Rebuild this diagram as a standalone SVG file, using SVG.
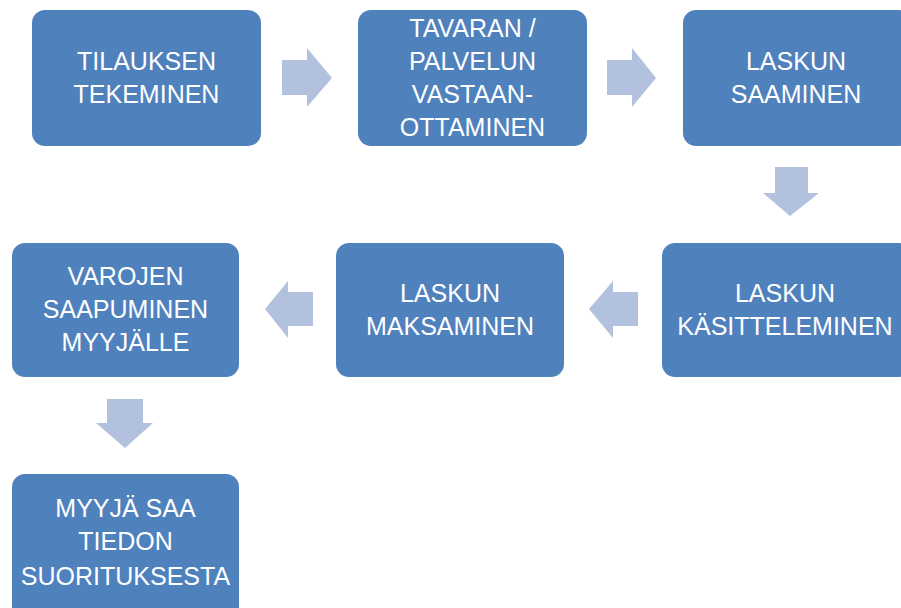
<svg xmlns="http://www.w3.org/2000/svg" width="901" height="608" viewBox="0 0 901 608">
<style>
.box{fill:#4F81BD;}
.arr{fill:#B2C1DD;}
text{font-family:"Liberation Sans",Arial,sans-serif;font-size:25px;fill:#FFFFFF;text-anchor:middle;}
</style>
<rect width="901" height="608" fill="#FFFFFF"/>
<g id="connectors">
<polygon class="arr" points="282,60 307,60 307,48 332,78 307,107 307,95 282,95"/>
<polygon class="arr" points="607,60 632,60 632,48 656,78 632,107 632,95 607,95"/>
<polygon class="arr" points="775,167 808,167 808,193 819,193 790,216 763,193 775,193"/>
<polygon class="arr" points="638,292 613,292 613,281 589,309 613,338 613,326 638,326"/>
<polygon class="arr" points="313,292 288,292 288,281 265,309 288,338 288,326 313,326"/>
<polygon class="arr" points="107,399 143,399 143,423 153,423 125,448 96,423 107,423"/>
</g>
<g id="n1">
<rect class="box" x="32" y="10" width="229" height="136" rx="13"/>
<text x="146.5" y="70">TILAUKSEN</text>
<text x="146.5" y="103">TEKEMINEN</text>
</g>
<g id="n2">
<rect class="box" x="358" y="10" width="229" height="136" rx="13"/>
<text x="472.5" y="37">TAVARAN /</text>
<text x="472.5" y="70">PALVELUN</text>
<text x="472.5" y="103">VASTAAN-</text>
<text x="472.5" y="136">OTTAMINEN</text>
</g>
<g id="n3">
<rect class="box" x="683" y="10" width="229" height="136" rx="13"/>
<text x="796" y="70">LASKUN</text>
<text x="796" y="103">SAAMINEN</text>
</g>
<g id="n4">
<rect class="box" x="662" y="243" width="250" height="134" rx="13"/>
<text x="785" y="302">LASKUN</text>
<text x="785" y="335">KÄSITTELEMINEN</text>
</g>
<g id="n5">
<rect class="box" x="336" y="243" width="228" height="134" rx="13"/>
<text x="450" y="302">LASKUN</text>
<text x="450" y="335">MAKSAMINEN</text>
</g>
<g id="n6">
<rect class="box" x="12" y="243" width="227" height="134" rx="13"/>
<text x="125.5" y="285">VAROJEN</text>
<text x="125.5" y="318">SAAPUMINEN</text>
<text x="125.5" y="351">MYYJÄLLE</text>
</g>
<g id="n7">
<rect class="box" x="12" y="474" width="227" height="150" rx="13"/>
<text x="125.5" y="517">MYYJÄ SAA</text>
<text x="125.5" y="550">TIEDON</text>
<text x="125.5" y="585">SUORITUKSESTA</text>
</g>
</svg>
